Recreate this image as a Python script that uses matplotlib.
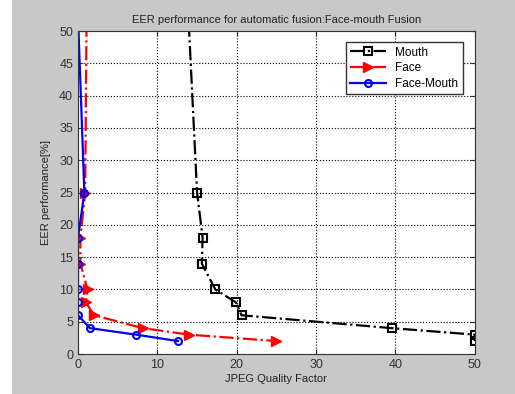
import matplotlib
matplotlib.use("Agg")
import matplotlib.pyplot as plt
from matplotlib.patches import Rectangle

plt.rcParams.update({"font.family": ["Liberation Sans", "DejaVu Sans"], "font.size": 8})

# First point of each curve lies above the axes and is clipped
mouth_x = [13.8, 15.0, 15.7, 15.6, 17.3, 19.9, 20.6, 39.6, 50.0, 50.0]
mouth_y = [55.0, 25.0, 18.0, 14.0, 10.0, 8.0, 6.0, 4.0, 3.0, 2.0]

face_x = [1.1, 0.9, 0.3, 0.3, 1.2, 1.0, 2.0, 8.2, 14.0, 25.0]
face_y = [55.0, 25.0, 18.0, 14.0, 10.0, 8.0, 6.0, 4.0, 3.0, 2.0]

fm_x = [0.0, 0.3, 0.8, 0.0, 0.0, 0.0, 0.0, 0.0, 1.5, 7.3, 12.6]
fm_y = [52.0, 42.0, 25.0, 18.0, 14.0, 10.0, 8.0, 6.0, 4.0, 3.0, 2.0]
fm_marks = list(range(2, len(fm_x)))

fig = plt.figure(figsize=(5.15, 3.94), dpi=100, facecolor="#c8c8c8")
# white strip on the left edge of the screenshot
fig.patches.append(Rectangle((0, 0), 12 / 515, 1, transform=fig.transFigure,
                             facecolor="white", edgecolor="none", zorder=-1))
ax = fig.add_axes([0.1515, 0.1015, 0.7705, 0.8195])

ax.plot(mouth_x, mouth_y, color="k", linestyle="-.", linewidth=1.6,
        marker="s", markersize=6, markerfacecolor="none", markeredgewidth=1.5,
        markevery=list(range(1, len(mouth_x))), label="Mouth")
ax.plot(face_x, face_y, color="red", linestyle="-.", linewidth=1.6,
        marker=">", markersize=7, markevery=list(range(1, len(face_x))),
        label="Face")
ax.plot(fm_x, fm_y, color="blue", linestyle="-", linewidth=1.6,
        marker="o", markersize=5, markerfacecolor="none", markeredgewidth=1.5,
        markevery=fm_marks, label="Face-Mouth")

ax.set_xlim(0, 50)
ax.set_ylim(0, 50)
ax.set_xticks(range(0, 51, 10))
ax.set_yticks(range(0, 51, 5))
ax.grid(True, color="k", linestyle=":", linewidth=0.8)
ax.tick_params(direction="in", top=True, right=True, colors="#333333", labelsize=9)
for s in ax.spines.values():
    s.set_color("#333333")

ax.set_title("EER performance for automatic fusion:Face-mouth Fusion",
             fontsize=8, color="#222222", pad=6)
ax.set_xlabel("JPEG Quality Factor", fontsize=8, color="#222222", labelpad=2)
ax.set_ylabel("EER performance[%]", fontsize=8, color="#222222", labelpad=6)

leg = ax.legend(loc="upper right", bbox_to_anchor=(0.985, 0.985), fontsize=8.5,
                fancybox=False, edgecolor="#333333", framealpha=1,
                handlelength=3, borderpad=0.4, labelspacing=0.3)
leg.get_frame().set_linewidth(1.0)

fig.savefig("out.png", dpi=100, facecolor=fig.get_facecolor())
